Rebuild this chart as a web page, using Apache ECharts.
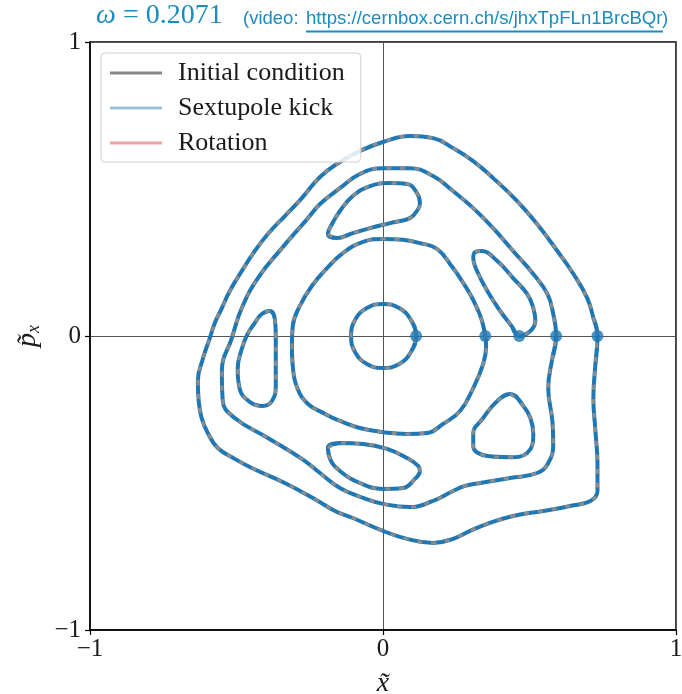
<!DOCTYPE html>
<html>
<head>
<meta charset="utf-8">
<script src="https://cdn.jsdelivr.net/npm/echarts@6/dist/echarts.min.js"></script>
<style>html,body{margin:0;padding:0;background:#fff}#box{width:682px;height:694px}</style>
</head>
<body>
<div id="box"></div>
<script>
// orbits, [x, px] pairs
var circleA = [[0.113,0],[0.095,0.055],[0.055,0.095],[0,0.109],[-0.055,0.095],[-0.095,0.055],[-0.109,0],[-0.095,-0.055],[-0.055,-0.095],[0,-0.109],[0.055,-0.095],[0.095,-0.055]];
var ringB = [[0.349,0],[0.338,0.051],[0.321,0.095],[0.297,0.143],[0.263,0.197],[0.239,0.231],[0.185,0.296],[0.126,0.316],[0.068,0.327],[0,0.330],[-0.068,0.320],[-0.137,0.282],[-0.191,0.231],[-0.243,0.170],[-0.284,0.102],[-0.308,0.034],[-0.311,-0.034],[-0.308,-0.102],[-0.291,-0.180],[-0.256,-0.231],[-0.198,-0.265],[-0.147,-0.289],[-0.079,-0.313],[0,-0.327],[0.082,-0.333],[0.150,-0.330],[0.205,-0.299],[0.263,-0.255],[0.308,-0.177],[0.342,-0.095],[0.352,-0.034]];
var islandUR = [[0.465,0],[0.441,0.031],[0.400,0.085],[0.356,0.153],[0.321,0.221],[0.308,0.265],[0.315,0.286],[0.335,0.289],[0.390,0.255],[0.444,0.197],[0.492,0.143],[0.513,0.095],[0.520,0.051],[0.503,0.017]];
var islandUL = [[-0.188,0.347],[-0.157,0.333],[-0.103,0.350],[-0.044,0.367],[0.024,0.384],[0.092,0.401],[0.120,0.432],[0.126,0.452],[0.116,0.486],[0.082,0.517],[0.024,0.520],[-0.044,0.510],[-0.103,0.476],[-0.147,0.425],[-0.174,0.381]];
var islandL = [[-0.386,0.085],[-0.414,0.075],[-0.438,0.044],[-0.462,0.007],[-0.482,-0.044],[-0.496,-0.112],[-0.489,-0.180],[-0.455,-0.224],[-0.410,-0.238],[-0.379,-0.221],[-0.366,-0.170],[-0.366,-0.085],[-0.366,0],[-0.369,0.058]];
var islandLL = [[-0.188,-0.381],[-0.147,-0.364],[-0.068,-0.367],[0.014,-0.384],[0.082,-0.415],[0.120,-0.442],[0.126,-0.459],[0.109,-0.486],[0.068,-0.517],[0,-0.520],[-0.079,-0.500],[-0.147,-0.459],[-0.181,-0.418]];
var islandLR = [[0.434,-0.197],[0.479,-0.238],[0.503,-0.279],[0.513,-0.333],[0.492,-0.398],[0.434,-0.412],[0.356,-0.408],[0.308,-0.374],[0.308,-0.333],[0.342,-0.279],[0.390,-0.221]];
var ringD = [[0.591,0],[0.581,0.075],[0.561,0.143],[0.513,0.211],[0.444,0.289],[0.376,0.367],[0.308,0.435],[0.239,0.493],[0.171,0.544],[0.092,0.571],[0,0.571],[-0.079,0.551],[-0.147,0.503],[-0.215,0.449],[-0.256,0.401],[-0.345,0.299],[-0.427,0.197],[-0.482,0.095],[-0.516,-0.007],[-0.550,-0.119],[-0.547,-0.221],[-0.506,-0.279],[-0.393,-0.347],[-0.277,-0.418],[-0.215,-0.466],[-0.147,-0.517],[-0.068,-0.551],[0,-0.571],[0.092,-0.582],[0.171,-0.561],[0.239,-0.527],[0.280,-0.510],[0.332,-0.500],[0.434,-0.483],[0.526,-0.466],[0.564,-0.432],[0.581,-0.367],[0.578,-0.289],[0.564,-0.177],[0.578,-0.075]];
var ringE = [[0.732,0],[0.718,0.061],[0.697,0.129],[0.650,0.211],[0.595,0.289],[0.526,0.381],[0.458,0.459],[0.376,0.537],[0.308,0.595],[0.239,0.639],[0.171,0.673],[0.092,0.680],[0,0.660],[-0.079,0.629],[-0.147,0.592],[-0.215,0.541],[-0.277,0.469],[-0.335,0.408],[-0.393,0.347],[-0.438,0.289],[-0.482,0.221],[-0.523,0.153],[-0.550,0.095],[-0.574,0.044],[-0.591,-0.007],[-0.615,-0.078],[-0.632,-0.153],[-0.629,-0.221],[-0.619,-0.279],[-0.598,-0.330],[-0.564,-0.381],[-0.506,-0.418],[-0.448,-0.449],[-0.335,-0.500],[-0.222,-0.561],[-0.164,-0.595],[-0.103,-0.619],[0,-0.663],[0.082,-0.690],[0.171,-0.704],[0.239,-0.690],[0.297,-0.663],[0.356,-0.639],[0.444,-0.612],[0.547,-0.595],[0.639,-0.578],[0.708,-0.561],[0.732,-0.527],[0.732,-0.435],[0.725,-0.323],[0.718,-0.211],[0.725,-0.095]];
var startX = [0.113, 0.349, 0.465, 0.591, 0.732];

var curves = [circleA, ringB, islandUR, islandUL, islandL, islandLL, islandLR, ringD, ringE];
var serif = 'Liberation Serif';
var teal = '#1a8cc0';
var minus = function (v) { return v < 0 ? '\u2212' + (-v) : String(v); };
// close the loop with one point of overlap on each side so the smoothing has neighbours
var loop = function (c) { return [c[c.length - 1]].concat(c, [c[0], c[1]]); };

var myChart = echarts.init(document.getElementById('box'));
var series = [];
curves.forEach(function (c) {
    series.push({
        name: 'Sextupole kick', type: 'line', data: loop(c), smooth: 0.45,
        symbol: 'none', itemStyle: { color: '#1f77b4' },
        lineStyle: { color: '#1f77b4', width: 4 }, z: 2
    });
});
curves.forEach(function (c) {
    series.push({
        name: 'Initial condition', type: 'line', data: c.concat([c[0]]), smooth: 0.45,
        symbol: 'none', itemStyle: { color: '#8c8c8c' },
        lineStyle: { color: '#8c8c8c', width: 3, type: [5, 9] }, z: 3
    });
});
series.push({ name: 'Rotation', type: 'line', data: [], symbol: 'none', itemStyle: { color: '#f0a3a3' } });
series.push({
    type: 'scatter', data: startX.map(function (x) { return [x, 0]; }),
    symbolSize: 12, itemStyle: { color: '#1f77b4' }, z: 4
});

var option = {
    animation: false,
    graphic: [
        { type: 'text', left: 96, top: 2, style: { text: '\u03c9', font: 'italic 28px "Liberation Serif"', fill: teal } },
        { type: 'text', left: 123, top: 2, style: { text: '= 0.2071', font: '28px "Liberation Serif"', fill: teal } },
        { type: 'text', left: 243, top: 9, style: { text: '(video:', font: '18.5px "Liberation Sans"', fill: teal } },
        { type: 'text', left: 306, top: 9, style: { text: 'https://cernbox.cern.ch/s/jhxTpFLn1BrcBQr', font: '18.6px "Liberation Sans"', fill: teal } },
        { type: 'text', left: 662, top: 9, style: { text: ')', font: '18.5px "Liberation Sans"', fill: teal } },
        { type: 'line', shape: { x1: 306, y1: 31.5, x2: 663, y2: 31.5 }, style: { stroke: teal, lineWidth: 1.8 } }
    ],
    legend: {
        orient: 'vertical', left: 101, top: 53,
        padding: [7, 16, 6, 9], itemGap: 9,
        icon: 'rect', itemWidth: 52, itemHeight: 3,
        backgroundColor: 'rgba(255,255,255,0.85)',
        borderColor: '#d0d0d0', borderWidth: 1, borderRadius: 4,
        itemStyle: { borderWidth: 0 },
        textStyle: { fontFamily: serif, fontSize: 26, color: '#1a1a1a', padding: [0, 0, 0, 11] },
        data: [
            { name: 'Initial condition', itemStyle: { color: '#878787' } },
            { name: 'Sextupole kick', itemStyle: { color: '#9dbfdb' } },
            { name: 'Rotation', itemStyle: { color: '#f0a3a3' } }
        ]
    },
    grid: {
        left: 90, right: 6, top: 42, bottom: 64, outerBoundsMode: 'none',
        show: true, borderColor: '#000', borderWidth: 1.5
    },
    xAxis: {
        type: 'value', min: -1, max: 1, interval: 1,
        name: '{a|x\u0303}', nameLocation: 'middle', nameGap: 40,
        nameTextStyle: { rich: { a: { fontFamily: serif, fontStyle: 'italic', fontSize: 28, color: '#1a1a1a' } } },
        axisLine: { onZero: false, lineStyle: { color: '#000', width: 1.5 } },
        axisTick: { length: 5, lineStyle: { color: '#000', width: 1.2 } },
        axisLabel: { fontFamily: serif, fontSize: 25, color: '#1a1a1a', margin: 7, formatter: minus },
        splitLine: { lineStyle: { color: '#555', width: 1 } }
    },
    yAxis: {
        type: 'value', min: -1, max: 1, interval: 1,
        name: '{a|p\u0303}{b|x}', nameLocation: 'middle', nameGap: 44, nameRotate: 90,
        nameTextStyle: {
            rich: {
                a: { fontFamily: serif, fontStyle: 'italic', fontSize: 28, color: '#1a1a1a', lineHeight: 32 },
                b: { fontFamily: serif, fontStyle: 'italic', fontSize: 18, color: '#1a1a1a', verticalAlign: 'bottom', lineHeight: 22 }
            }
        },
        axisLine: { onZero: false, lineStyle: { color: '#000', width: 1.5 } },
        axisTick: { length: 5, lineStyle: { color: '#000', width: 1.2 } },
        axisLabel: { fontFamily: serif, fontSize: 25, color: '#1a1a1a', margin: 9, formatter: minus },
        splitLine: { lineStyle: { color: '#555', width: 1 } }
    },
    series: series
};

option && myChart.setOption(option);
</script>
</body>
</html>
